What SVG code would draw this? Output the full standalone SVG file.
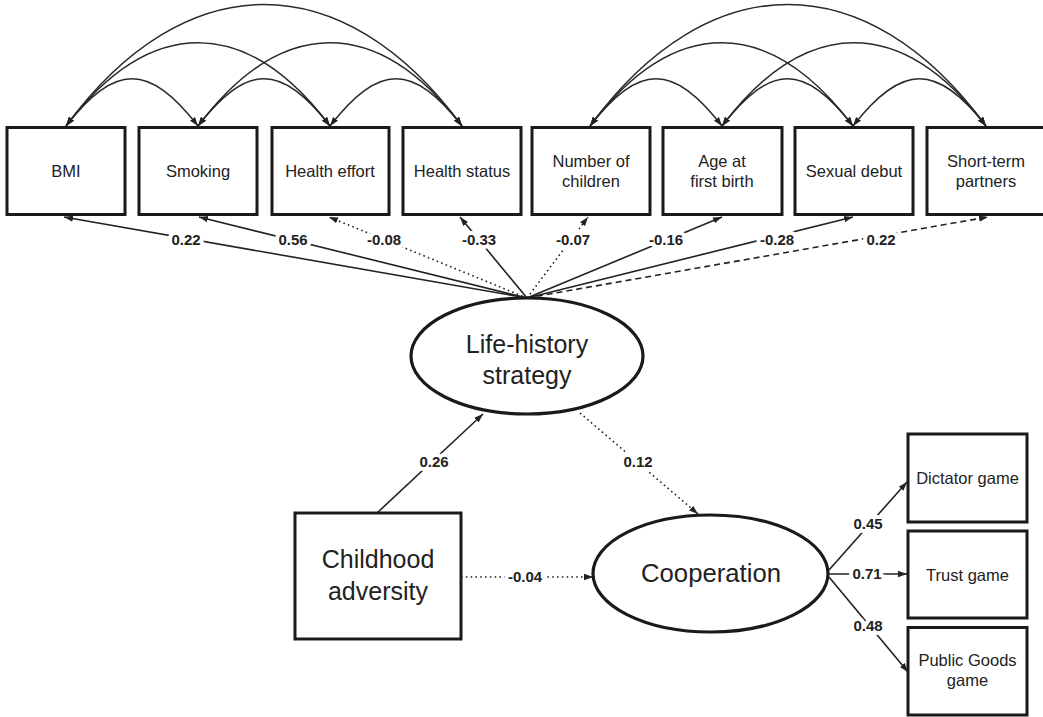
<svg xmlns="http://www.w3.org/2000/svg" width="1043" height="717" viewBox="0 0 1043 717">
<style>
  .box{fill:#fff;stroke:#1a1a1a;stroke-width:3}
  .ell{fill:#fff;stroke:#1a1a1a;stroke-width:3.2}
  .t16{font-family:"Liberation Sans",Arial,sans-serif;font-size:16.5px;fill:#222;text-anchor:middle}
  .t25{font-family:"Liberation Sans",Arial,sans-serif;font-size:25px;fill:#222;text-anchor:middle}
  .arc{fill:none;stroke:#2a2a2a;stroke-width:1.5;marker-start:url(#ah);marker-end:url(#ah)}
  .ln{fill:none;stroke:#222;stroke-width:1.6;marker-end:url(#ah)}
  .dot{stroke-dasharray:1.6 3.2}
  .dash{stroke-dasharray:6 4}
  .lbl{font-family:"Liberation Sans",Arial,sans-serif;font-size:15px;font-weight:bold;fill:#222;text-anchor:middle;stroke:#fff;stroke-width:8;paint-order:stroke;stroke-linejoin:round}
</style>
<defs>
  <marker id="ah" viewBox="0 0 10 10" refX="10" refY="5" markerWidth="9" markerHeight="9" markerUnits="userSpaceOnUse" orient="auto-start-reverse">
    <path d="M0,1.5 L10,5 L0,8.5 Z" fill="#222"/>
  </marker>
</defs>
<rect width="1043" height="717" fill="#fff"/>

<g id="connectors">
  <!-- covariance arcs, left group -->
  <path class="arc" d="M66,126 C115,63 149,63 198,126"/>
  <path class="arc" d="M198,126 C247,63 281,63 330,126"/>
  <path class="arc" d="M330,126 C379,63 413,63 462,126"/>
  <path class="arc" d="M66,126 C150,15 246,15 330,126"/>
  <path class="arc" d="M198,126 C282,15 378,15 462,126"/>
  <path class="arc" d="M66,126 C185,-36 343,-36 462,126"/>
  <!-- covariance arcs, right group -->
  <path class="arc" d="M590,126 C639,63 673,63 722,126"/>
  <path class="arc" d="M722,126 C771,63 804,63 853,126"/>
  <path class="arc" d="M853,126 C902,63 937,63 986,126"/>
  <path class="arc" d="M590,126 C674,15 769,15 853,126"/>
  <path class="arc" d="M722,126 C806,15 902,15 986,126"/>
  <path class="arc" d="M590,126 C709,-36 867,-36 986,126"/>

  <!-- loadings from life-history strategy -->
  <path class="ln" d="M527,298 L64,217"/>
  <path class="ln" d="M527,298 L199,217"/>
  <path class="ln dot" d="M527,298 L329,217"/>
  <path class="ln" d="M527,298 L460,217"/>
  <path class="ln dot" d="M527,298 L588,217"/>
  <path class="ln" d="M527,298 L722,217"/>
  <path class="ln" d="M527,298 L853,217"/>
  <path class="ln dash" d="M527,298 L988,217"/>

  <!-- structural paths -->
  <path class="ln" d="M377,513 L483,414"/>
  <path class="ln dot" d="M580,413 L698,514"/>
  <path class="ln dot" d="M461,577 L593,577"/>

  <!-- cooperation loadings -->
  <path class="ln" d="M829,570 L907,482"/>
  <path class="ln" d="M829,574 L907,574"/>
  <path class="ln" d="M829,577 L908,672"/>

  <!-- labels -->
  <text class="lbl" x="186" y="245">0.22</text>
  <text class="lbl" x="293" y="245">0.56</text>
  <text class="lbl" x="384" y="245">-0.08</text>
  <text class="lbl" x="479" y="245">-0.33</text>
  <text class="lbl" x="573" y="245">-0.07</text>
  <text class="lbl" x="666" y="245">-0.16</text>
  <text class="lbl" x="777" y="245">-0.28</text>
  <text class="lbl" x="881" y="245">0.22</text>
  <text class="lbl" x="434" y="467">0.26</text>
  <text class="lbl" x="638" y="467">0.12</text>
  <text class="lbl" x="525" y="582">-0.04</text>
  <text class="lbl" x="868" y="529">0.45</text>
  <text class="lbl" x="867" y="579">0.71</text>
  <text class="lbl" x="868" y="631">0.48</text>
</g>

<g id="bmi"><rect class="box" x="7" y="127.5" width="118" height="87"/><text class="t16" x="66" y="177">BMI</text></g>
<g id="smoking"><rect class="box" x="139" y="127.5" width="118" height="87"/><text class="t16" x="198" y="177">Smoking</text></g>
<g id="health-effort"><rect class="box" x="272" y="127.5" width="117" height="87"/><text class="t16" x="330" y="177">Health effort</text></g>
<g id="health-status"><rect class="box" x="403" y="127.5" width="118" height="87"/><text class="t16" x="462" y="177">Health status</text></g>
<g id="number-of-children"><rect class="box" x="532" y="127.5" width="118" height="87"/><text class="t16" x="591" y="167">Number of</text><text class="t16" x="591" y="187">children</text></g>
<g id="age-first-birth"><rect class="box" x="663" y="127.5" width="119" height="87"/><text class="t16" x="722" y="167">Age at</text><text class="t16" x="722" y="187">first birth</text></g>
<g id="sexual-debut"><rect class="box" x="795" y="127.5" width="118" height="87"/><text class="t16" x="854" y="177">Sexual debut</text></g>
<g id="short-term-partners"><rect class="box" x="927" y="127.5" width="118" height="87"/><text class="t16" x="986" y="167">Short-term</text><text class="t16" x="986" y="187">partners</text></g>

<g id="life-history-strategy"><ellipse class="ell" cx="527" cy="356" rx="116" ry="58"/><text class="t25" x="527" y="353">Life-history</text><text class="t25" x="527" y="384">strategy</text></g>
<g id="childhood-adversity"><rect class="box" x="295" y="513" width="166" height="126"/><text class="t25" x="378" y="568">Childhood</text><text class="t25" x="378" y="600">adversity</text></g>
<g id="cooperation"><ellipse class="ell" cx="710.5" cy="573.5" rx="117.5" ry="58.5"/><text class="t25" x="711" y="582" style="font-size:25.7px">Cooperation</text></g>

<g id="dictator-game"><rect class="box" x="908" y="434" width="119" height="88"/><text class="t16" x="967.5" y="484">Dictator game</text></g>
<g id="trust-game"><rect class="box" x="908" y="531" width="119" height="87"/><text class="t16" x="967.5" y="581">Trust game</text></g>
<g id="public-goods-game"><rect class="box" x="908" y="627.5" width="119" height="87.5"/><text class="t16" x="967.5" y="666">Public Goods</text><text class="t16" x="967.5" y="686">game</text></g>
</svg>
